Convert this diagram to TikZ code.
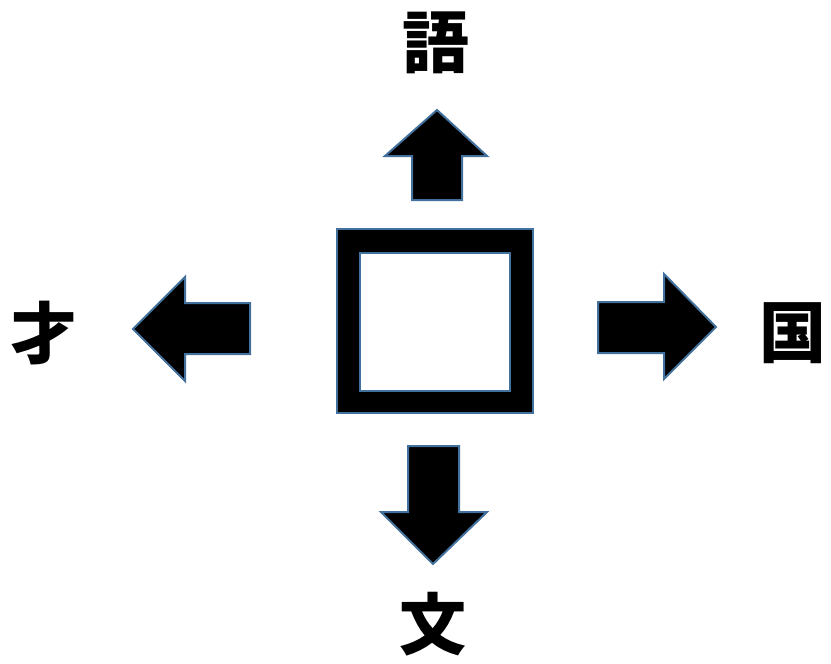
\documentclass[tikz,border=0pt]{standalone}
\usepackage{fontspec}
\newfontfamily\cjk{Noto Sans CJK JP Black}
\begin{document}
\begin{tikzpicture}[x=1pt,y=-1pt,
  blk/.style={fill=black,draw=edgeblue,line width=2pt,line join=miter},
  kanji/.style={font=\cjk\fontsize{67}{67}\selectfont,inner sep=0pt,anchor=center}]
\definecolor{edgeblue}{HTML}{41719C}
\useasboundingbox[fill=white] (0,0) rectangle (831,664);
% central frame
\draw[blk,even odd rule] (337,229) rectangle (533,413) (360,253) rectangle (510,391);
% up arrow
\draw[blk] (437,110) -- (487,156) -- (462,156) -- (462,200) -- (412,200) -- (412,156) -- (385,156) -- cycle;
% left arrow
\draw[blk] (133,329) -- (185,277) -- (185,303) -- (250,303) -- (250,354) -- (185,354) -- (185,381) -- cycle;
% right arrow
\draw[blk] (716,327) -- (664,274) -- (664,302) -- (598,302) -- (598,353) -- (664,353) -- (664,379) -- cycle;
% down arrow
\draw[blk] (433,564) -- (487,512) -- (459,512) -- (459,446) -- (408,446) -- (408,512) -- (381,512) -- cycle;
% texts
\node[kanji] (go) at (436,43) {語};
\node[kanji] (sai) at (44,333) {才};
\node[kanji] (koku) at (793,333) {国};
\node[kanji] (bun) at (433,624) {文};
\end{tikzpicture}
\end{document}
